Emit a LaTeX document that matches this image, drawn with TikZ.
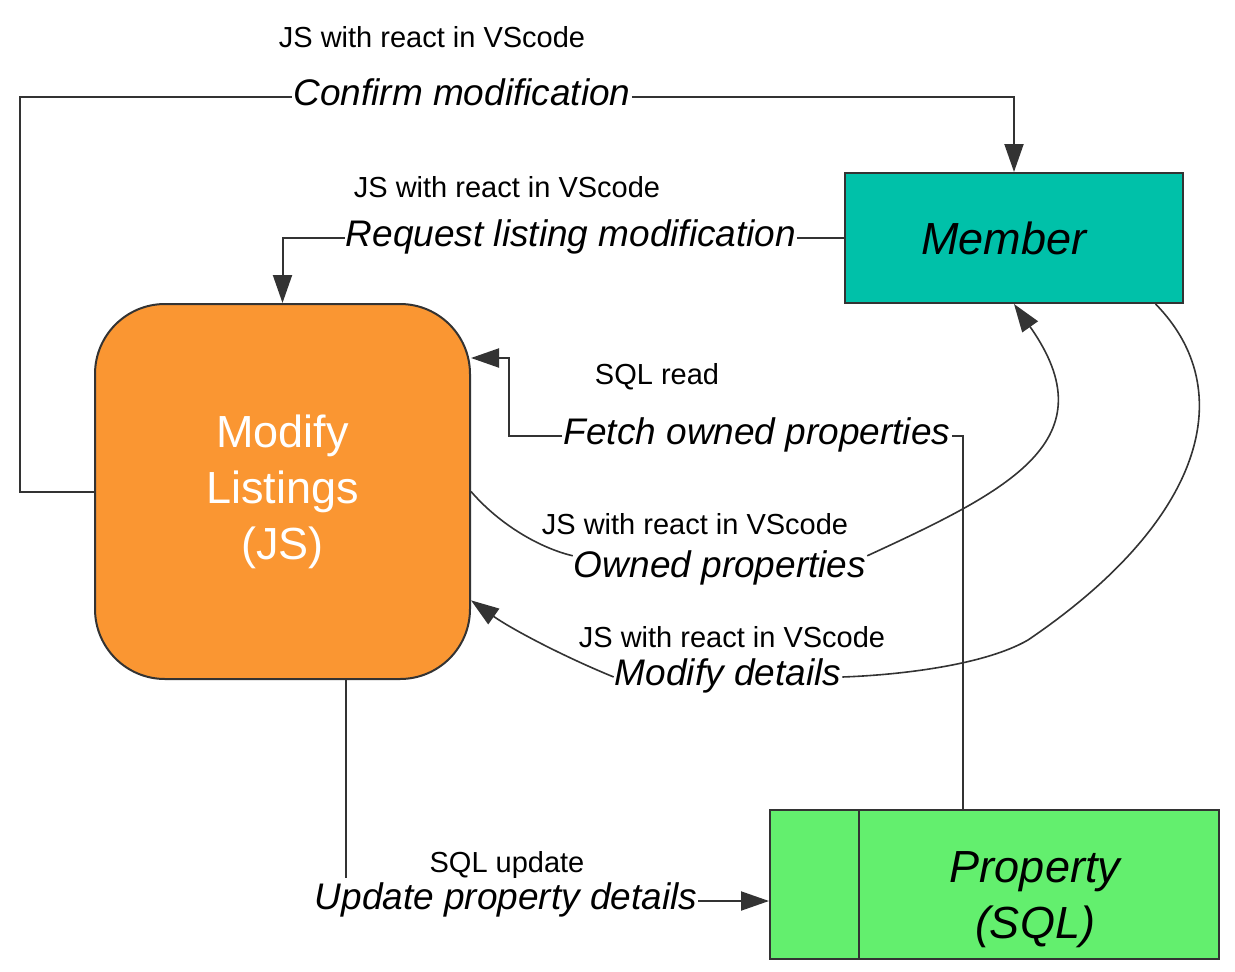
\documentclass[tikz,border=0pt]{standalone}
\usepackage{fontspec}
\setmainfont{Liberation Sans}
\usetikzlibrary{arrows.meta}

\definecolor{memberteal}{HTML}{00C1A9}
\definecolor{listorange}{HTML}{FA9632}
\definecolor{propgreen}{HTML}{63EF6E}
\definecolor{linegray}{HTML}{333333}

\newcommand{\lblbig}{\fontsize{37}{44}\selectfont\itshape}
\newcommand{\lblsmall}{\fontsize{29}{35}\selectfont}
\newcommand{\boxfnt}{\fontsize{45}{56}\selectfont}

\begin{document}
\begin{tikzpicture}[
    x=1pt, y=-1pt,
    member/.style={draw=linegray, line width=2pt, fill=memberteal,
                   minimum width=338pt, minimum height=130pt, font=\boxfnt\itshape},
    listing/.style={draw=linegray, line width=2pt, fill=listorange, rounded corners=70pt,
                    minimum width=375pt, minimum height=375pt, align=center,
                    text=white, font=\boxfnt},
    store/.style={draw=linegray, line width=2pt, fill=propgreen,
                  minimum width=449pt, minimum height=149pt},
    lbl/.style={fill=white, inner sep=1pt, text height=26pt, text depth=10pt, font=\lblbig},
    note/.style={inner sep=1pt, text height=0.75em, text depth=0.25em, font=\lblsmall},
    wire/.style={draw=linegray, line width=2pt},
    arr/.style={wire, -{Triangle[length=28pt, width=19pt]}},
    swoop/.style={draw=linegray, line width=1.6pt},
    swooparr/.style={swoop, -{Triangle[length=28pt, width=19pt]}}
  ]
    \useasboundingbox (0,0) rectangle (1235,972);

    \node[member]  (member)   at (1014,238)    {Member\hspace*{20pt}};
    \node[listing] (listings) at (282.5,491.5) {Modify\\Listings\\(JS)};
    \node[store]   (property) at (994.5,884.5) {};
    \draw[wire] ([xshift=90pt]property.north west) -- ([xshift=90pt]property.south west);
    \node[font=\boxfnt\itshape, align=center, inner sep=0pt] (proptext) at (1035,900) {Property\\(SQL)};

    \node[lbl]  (confirm)     at (462,97)  {Confirm modification};
    \node[note] (confirmnote) at (432,45)  {JS with react in VScode};
    \node[lbl]  (request)     at (571,238) {Request listing modification};
    \node[note] (requestnote) at (507,195) {JS with react in VScode};
    \node[lbl]  (fetch)       at (757,436) {Fetch owned properties};
    \node[note] (fetchnote)   at (657,382) {SQL read};
    \node[lbl]  (owned)       at (720,569) {Owned properties};
    \node[note] (ownednote)   at (695,532) {JS with react in VScode};
    \node[lbl]  (modify)      at (728,677) {Modify details};
    \node[note] (modifynote)  at (732,645) {JS with react in VScode};
    \node[lbl]  (update)      at (506,901) {Update property details};
    \node[note] (updatenote)  at (507,870) {SQL update};

    \coordinate (confirmx)  at (20,97);
    \coordinate (fetchbend) at (509,358);
    \coordinate (fetchx)    at (963,436);
    \coordinate (updx)      at (346,878);

    \draw[wire] (listings.west) -| (confirmx) -- (confirm.west);
    \draw[arr]  (confirm.east) -| (member.north);
    \draw[wire] (member.west) -- (request.east);
    \draw[arr]  (request.west) -| (listings.north);
    \draw[wire] (property.north -| fetchx) -- (fetchx) -- (fetch.east);
    \draw[arr]  (fetch.west) -| (fetchbend) -- (fetchbend -| listings.east);
    \draw[wire] (listings.south -| updx) -- (updx);
    \draw[arr]  (update.east) -- (update.east -| property.west);
    \draw[swoop]    (listings.east) .. controls (500,525) and (540,548) .. ([yshift=-6pt]owned.north west);
    \draw[swooparr] ([yshift=-6pt]owned.north east) .. controls (1010,490) and (1110,440) .. (member.south);
    \draw[swoop]    (member.-25) .. controls (1240,390) and (1205,520) .. (1028,640)
                    .. controls (985,665) and (900,675) .. (modify.east);
    \draw[swooparr] (modify.west) .. controls (560,655) and (510,628) .. (listings.-30.5);
\end{tikzpicture}
\end{document}
